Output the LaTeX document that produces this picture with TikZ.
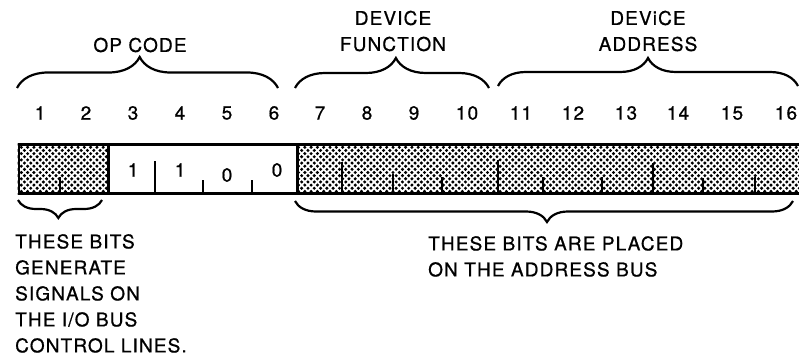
\documentclass[tikz,border=0pt]{standalone}
\usepackage{fontspec}
\setmainfont{TeX Gyre Heros}
\newfontfamily\scanfont{TeX Gyre Heros}[LetterSpace=6, FakeBold=0.8]
\usetikzlibrary{decorations.pathreplacing,positioning}
\tikzset{
field/.style={draw, line width=2.5pt, inner sep=0pt, anchor=north west},
bitnum/.style={font=\scanfont\fontsize{19}{19}\selectfont, inner sep=0pt},
fieldname/.style={font=\scanfont\fontsize{19}{26}\selectfont, align=center, inner sep=0pt},
note/.style={font=\scanfont\fontsize{19}{26}\selectfont, align=left, inner sep=0pt, anchor=north west},
bittick/.style={line width=2.5pt},
upbrace/.style={decorate, decoration={brace, amplitude=#1}, line width=2.2pt},
upbrace/.default=30pt,
}

\begin{document}
\begin{tikzpicture}[x=1pt,y=-1pt]
        \useasboundingbox (0,0) rectangle (799,358);

        % bit numbers
        \foreach \n/\x in {1/40,2/86,3/133,4/180,5/227,6/274,7/320,8/367,
                           9/414,10/467,11/521,12/573,13/626,14/678,15/732,16/786}
            \node[bitnum] (b\n) at (\x,113) {\n};

        % the instruction word
        \node[field, minimum width=89.5pt, minimum height=48.5pt] (io) at (17.5,143.5) {};
        \node[field, minimum width=189pt, minimum height=48.5pt] (code) at (107,143.5) {};
        \node[field, minimum width=506pt, minimum height=48.5pt] (dev) at (296,143.5) {};

        % dot screen on bits 1-2 and 7-16
        \begin{scope}
            \clip (io.north west) rectangle (io.south east)
                  (dev.north west) rectangle (dev.south east);
            \foreach \x in {15,21.3,...,805}
                \foreach \y in {141,147.3,...,198} {
                    \fill (\x,\y) circle (1.7pt);
                    \fill (\x+3.15,\y+3.15) circle (1.7pt);
                }
        \end{scope}

        \node[bitnum] (c3) at (133,170) {1};
        \node[bitnum] (c4) at (180,170) {1};
        \node[bitnum] (c5) at (227,175) {0};
        \node[bitnum] (c6) at (277,170) {0};

        \draw[bittick] (60,177) -- (60,192);
        \foreach \x/\y in {155/161,203/180,252/180}
            \draw[bittick] (\x,\y) -- (\x,192);
        \foreach \x/\y in {342/162,393/174,442/177,498/160,543/177,602/177,653/163,703/178,755/177}
            \draw[bittick] (\x,\y) -- (\x,192);

        % field names
        \draw[upbrace=31pt, decoration={aspect=0.47}] (17,88) -- (278,88);
        \node[fieldname] (opcode) at (140,45) {OP CODE};
        \draw[upbrace, decoration={aspect=0.52}] (295,88) -- (489,88);
        \node[fieldname] (fn) at (393,31) {DEVICE\\FUNCTION};
        \draw[upbrace=28pt] (498,86) -- (798,86);
        \node[fieldname] (addr) at (648,31) {DEViCE\\ADDRESS};

        % notes below
        \draw[upbrace=18pt, decoration={aspect=0.52}] (102,200) -- (18,200);
        \node[note] (ctl) at (15,234) {THESE BITS\\GENERATE\\SIGNALS ON\\THE I/O BUS\\CONTROL LINES.};
        \draw[upbrace=21pt, decoration={aspect=0.494}] (793,201) -- (295,201);
        \node[note] (bus) at (428,236) {THESE BITS ARE PLACED\\ON THE ADDRESS BUS};

    \end{tikzpicture}
\end{document}
